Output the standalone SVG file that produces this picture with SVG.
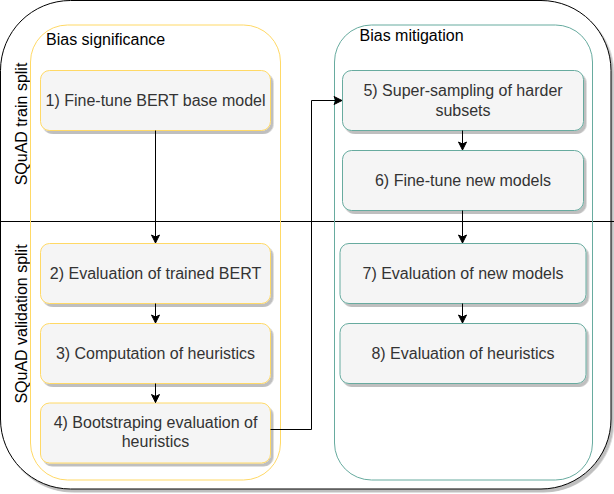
<svg xmlns="http://www.w3.org/2000/svg" width="614" height="494" viewBox="0 0 614 494">
<defs>
<style>
.t{font-family:"Liberation Sans",Arial,sans-serif;font-size:16px;fill:#333333;text-anchor:middle}
.lbl{font-family:"Liberation Sans",Arial,sans-serif;font-size:16px;fill:#000000}
.y{fill:#f5f5f5;stroke:#FFD966;stroke-width:1}
.g{fill:#f5f5f5;stroke:#67AB9F;stroke-width:1}
.c{fill:none;stroke:#000;stroke-width:1}
</style>
<filter id="sh" x="-10%" y="-10%" width="130%" height="130%">
<feDropShadow dx="2.5" dy="3" stdDeviation="0.6" flood-color="#000" flood-opacity="0.25"/>
</filter>
<marker id="ar" markerUnits="userSpaceOnUse" markerWidth="10" markerHeight="10" refX="9" refY="5" orient="auto">
<path d="M1,1 L9,5 L1,9 L3,5 Z" fill="#000" stroke="#000" stroke-width="1"/>
</marker>
</defs>

<g id="outer">
<rect x="0.5" y="0.5" width="610.5" height="488.5" rx="70" ry="70" fill="#ffffff" stroke="#000" stroke-width="1" filter="url(#sh)"/>
<line x1="0" y1="221.5" x2="614" y2="221.5" stroke="#000" stroke-width="1"/>
<text class="lbl" text-anchor="middle" transform="translate(26.5,124) rotate(-90)">SQuAD train split</text>
<text class="lbl" text-anchor="middle" transform="translate(26.5,324) rotate(-90)">SQuAD validation split</text>
</g>

<g id="bias-significance">
<rect x="30.5" y="25" width="250" height="455" rx="37" ry="37" fill="none" stroke="#FFD966" stroke-width="1"/>
<text class="lbl" x="46" y="45">Bias significance</text>
</g>

<g id="bias-mitigation">
<rect x="334.5" y="25" width="258" height="455" rx="37" ry="37" fill="none" stroke="#67AB9F" stroke-width="1"/>
<text class="lbl" x="359.5" y="40.5">Bias mitigation</text>
</g>

<g id="n1">
<rect class="y" x="40.5" y="70.5" width="230" height="60" rx="9" filter="url(#sh)"/>
<text class="t" x="155.5" y="105.7">1) Fine-tune BERT base model</text>
</g>
<g id="n2">
<rect class="y" x="40.5" y="243.5" width="230" height="60" rx="9" filter="url(#sh)"/>
<text class="t" x="155.5" y="278.8">2) Evaluation of trained BERT</text>
</g>
<g id="n3">
<rect class="y" x="40.5" y="323.5" width="230" height="60" rx="9" filter="url(#sh)"/>
<text class="t" x="155.5" y="358.8">3) Computation of heuristics</text>
</g>
<g id="n4">
<rect class="y" x="40.5" y="403" width="230" height="60" rx="9" filter="url(#sh)"/>
<text class="t" x="155.5" y="428.2">4) Bootstraping evaluation of</text>
<text class="t" x="155.5" y="447.2">heuristics</text>
</g>
<g id="n5">
<rect class="g" x="342.5" y="70.5" width="241" height="60" rx="9" filter="url(#sh)"/>
<text class="t" x="463" y="95.5">5) Super-sampling of harder</text>
<text class="t" x="463" y="115.5">subsets</text>
</g>
<g id="n6">
<rect class="g" x="342.5" y="150.5" width="241" height="60" rx="9" filter="url(#sh)"/>
<text class="t" x="463" y="185.5">6) Fine-tune new models</text>
</g>
<g id="n7">
<rect class="g" x="340" y="243.5" width="246" height="60" rx="9" filter="url(#sh)"/>
<text class="t" x="463" y="278.8">7) Evaluation of new models</text>
</g>
<g id="n8">
<rect class="g" x="340" y="323.5" width="246" height="60" rx="9" filter="url(#sh)"/>
<text class="t" x="463" y="358.8">8) Evaluation of heuristics</text>
</g>

<g id="connectors">
<path class="c" d="M155.5,130.5 L155.5,243" marker-end="url(#ar)"/>
<path class="c" d="M155.5,303.5 L155.5,323" marker-end="url(#ar)"/>
<path class="c" d="M155.5,383.5 L155.5,402.5" marker-end="url(#ar)"/>
<path class="c" d="M270.5,429.5 L311.5,429.5 L311.5,100.5 L342,100.5" marker-end="url(#ar)"/>
<path class="c" d="M462.5,130.5 L462.5,150" marker-end="url(#ar)"/>
<path class="c" d="M462.5,210.5 L462.5,243" marker-end="url(#ar)"/>
<path class="c" d="M462.5,303.5 L462.5,323" marker-end="url(#ar)"/>
</g>
</svg>
